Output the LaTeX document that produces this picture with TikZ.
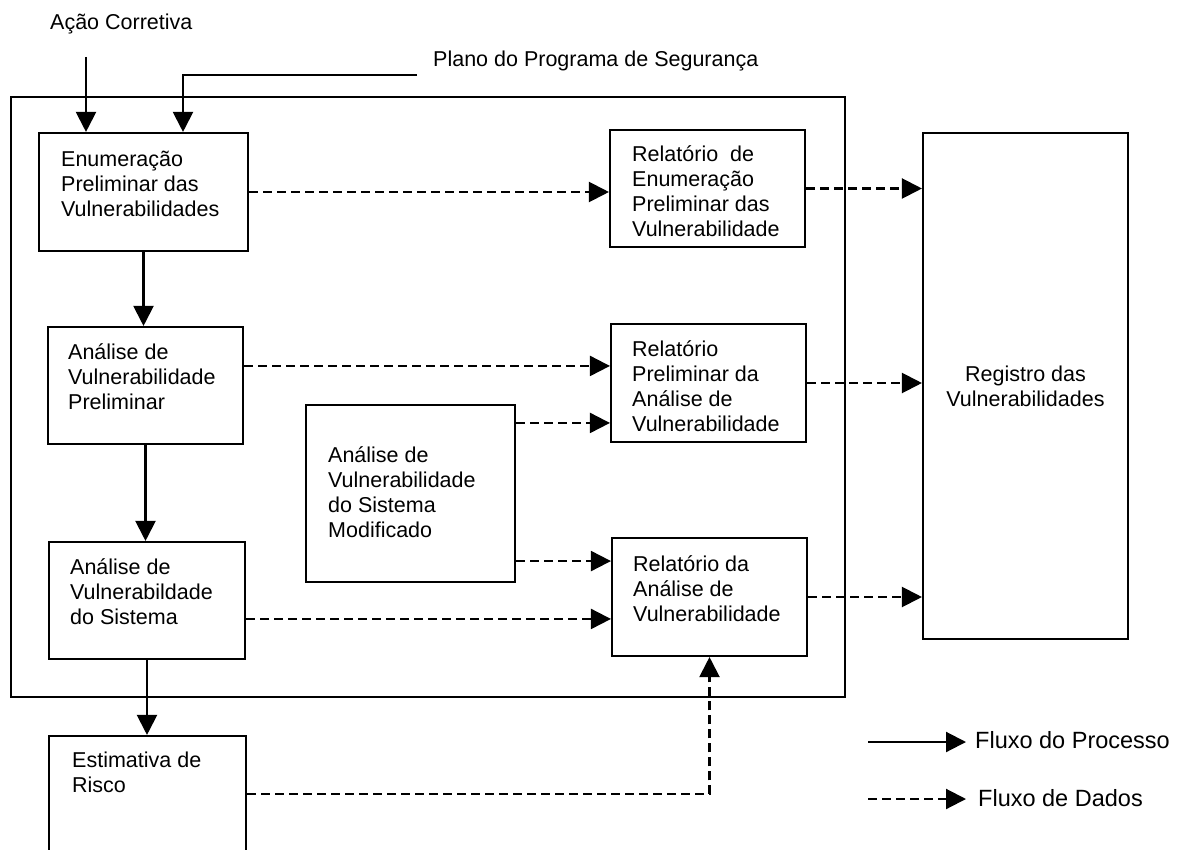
\documentclass[tikz,border=0pt]{standalone}
\usepackage{fontspec}
\setmainfont{Liberation Sans}
\usetikzlibrary{arrows.meta,calc,fit}
\begin{document}
\begin{tikzpicture}[x=1pt,y=-1pt,
  box/.style={draw, line width=2.1pt, inner sep=0pt},
  txt/.style={font=\fontsize{21.5}{25}\selectfont, align=left, inner sep=0pt, anchor=north west},
  lbl/.style={font=\fontsize{21.5}{25}\selectfont, inner sep=0pt, anchor=base west},
  leg/.style={font=\fontsize{23.5}{27}\selectfont, inner sep=0pt, anchor=base west},
  tip/.style={-{Triangle[length=20pt,width=20pt]}},
  proc/.style={line width=2.1pt, tip},
  data/.style={line width=2.1pt, dash pattern=on 9pt off 5pt, tip},
]
\useasboundingbox (0,0) rectangle (1188,850);
\clip (0,0) rectangle (1188,850);

% process boundary
\node[box, fit={(11,97) (845,697)}] (frame) {};

% process steps
\node[box, fit={(39,133) (248,251)}] (A) {};
\node[box, fit={(48,327) (243,444)}] (B) {};
\node[box, fit={(49,542) (245,659)}] (S) {};
\node[box, fit={(306,405) (515,582)}] (M) {};
\node[box, fit={(49,736) (246,900)}] (E) {};

% reports
\node[box, fit={(610,130) (805,247)}] (R1) {};
\node[box, fit={(611,324) (806,442)}] (R2) {};
\node[box, fit={(612,538) (807,656)}] (R3) {};

% register
\node[box, fit={(923,133) (1128,639)}] (Reg) {};

% box texts
\node[txt] (A-t)  at (61,148.5)  {\strut Enumeração\\Preliminar das\\Vulnerabilidades};
\node[txt] (B-t)  at (68,341.5)  {\strut Análise de\\Vulnerabilidade\\Preliminar};
\node[txt] (S-t)  at (70,556.5)  {\strut Análise de\\Vulnerabildade\\do Sistema};
\node[txt] (M-t)  at (328,444.5) {\strut Análise de\\Vulnerabilidade\\do Sistema\\Modificado};
\node[txt] (E-t)  at (72,749.5)  {\strut Estimativa de\\Risco};
\node[txt] (R1-t) at (632,143.5) {\strut Relatório\ \ de\\Enumeração\\Preliminar das\\Vulnerabilidade};
\node[txt] (R2-t) at (632,338.5) {\strut Relatório\\Preliminar da\\Análise de\\Vulnerabilidade};
\node[txt] (R3-t) at (633,553.5) {\strut Relatório da\\Análise de\\Vulnerabilidade};
\node[font=\fontsize{21.5}{25}\selectfont, align=center, inner sep=0pt] (Reg-t) at (Reg.center) {Registro das\\Vulnerabilidades};

% inputs
\node[lbl] (acao) at (50,30) {Ação Corretiva};
\node[lbl] (plano) at (433,67) {Plano do Programa de Segurança};
\coordinate (acao-s) at (86,57);
\coordinate (plano-s) at (417,75);
\coordinate (plano-c) at (183,75);
\draw[proc] (acao-s) -- (acao-s |- A.north);
\draw[proc] (plano-s) -- (plano-c) -- (plano-c |- A.north);

% process flow
\draw[proc] (A.south) -- (A.south |- B.north);
\draw[proc] (B.south) -- (B.south |- S.north);
\draw[proc] (S.south) -- (S.south |- E.north);

% data flow
\draw[data] (A.east) -- (A.east -| R1.west);
\draw[data] ($(B.north east)+(0,40)$) coordinate (b-o) -- (b-o -| R2.west);
\draw[data] ($(M.north east)+(0,19)$) coordinate (m-o1) -- (m-o1 -| R2.west);
\draw[data] ($(M.south east)+(0,-22)$) coordinate (m-o2) -- (m-o2 -| R3.west);
\draw[data] ($(S.north east)+(0,78)$) coordinate (s-o) -- (s-o -| R3.west);
\draw[data] ($(E.north east)+(0,59)$) coordinate (e-o) -| (R3.south);
\draw[data] (R1.east) -- (R1.east -| Reg.west);
\draw[data] (R2.east) -- (R2.east -| Reg.west);
\draw[data] (R3.east) -- (R3.east -| Reg.west);

% legend
\coordinate (lp-a) at (868,742);
\coordinate (lp-b) at (966,742);
\coordinate (ld-a) at (868,799);
\coordinate (ld-b) at (966,799);
\draw[proc] (lp-a) -- (lp-b);
\draw[data] (ld-a) -- (ld-b);
\node[leg] (lp-t) at (975,748) {Fluxo do Processo};
\node[leg] (ld-t) at (978,806) {Fluxo de Dados};
\end{tikzpicture}
\end{document}
